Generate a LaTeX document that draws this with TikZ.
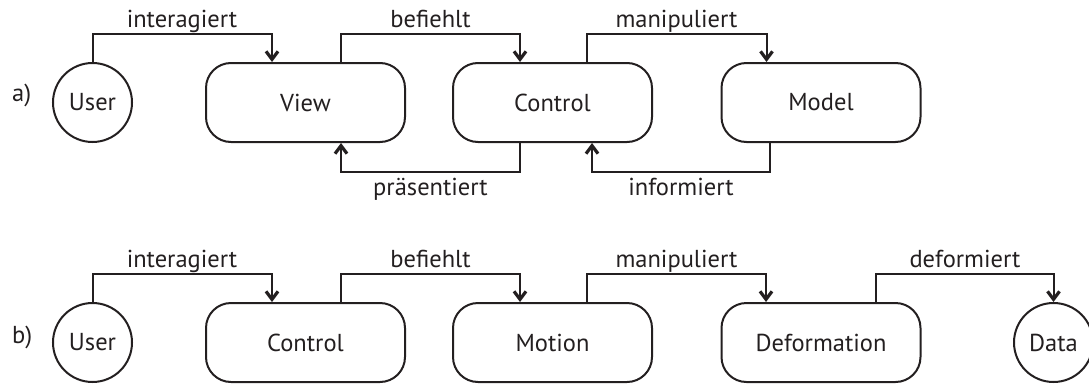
\documentclass[tikz,border=0pt]{standalone}
\usepackage{fontspec}
\setmainfont{PT Sans}
\usetikzlibrary{arrows.meta}
\definecolor{ink}{RGB}{35,31,32}
\begin{document}
\begin{tikzpicture}[x=1pt,y=-1pt,
  every node/.style={text=ink, font=\fontsize{24.5}{29}\selectfont},
  box/.style={draw=ink, line width=2pt, rounded corners=25pt, minimum width=199pt, minimum height=79pt, inner sep=0pt},
  circ/.style={draw=ink, line width=2pt, circle, minimum size=79pt, inner sep=0pt},
  conn/.style={draw=ink, line width=2pt},
  arr/.style={conn, -{Straight Barb[length=8pt,width=12pt,line width=3.2pt]}},
  lbl/.style={anchor=base, inner sep=0pt},
  tag/.style={anchor=base west, inner sep=0pt}]
\useasboundingbox (0,0) rectangle (1089,383);
% row a
\node[tag] (ta) at (12,101.5) {a)};
\node[circ] (userA) at (92.5,102.5) {User};
\node[box] (viewA) at (305.5,102.5) {View};
\node[box] (ctrlA) at (552.5,102.5) {Control};
\node[box] (modelA) at (821,102.5) {Model};
\coordinate (topA) at (0,34);
\coordinate (botA) at (0,172);
\coordinate (viewAin) at ([xshift=-33.5pt]viewA.north);
\coordinate (viewAout) at ([xshift=35.5pt]viewA.north);
\coordinate (ctrlAin) at ([xshift=-32.5pt]ctrlA.north);
\coordinate (ctrlAout) at ([xshift=34.5pt]ctrlA.north);
\coordinate (modelAin) at ([xshift=-54.5pt]modelA.north);
\coordinate (ctrlAbout) at ([xshift=-32.5pt]ctrlA.south);
\coordinate (viewAbin) at ([xshift=35.5pt]viewA.south);
\coordinate (modelAbout) at ([xshift=-51pt]modelA.south);
\coordinate (ctrlAbin) at ([xshift=39.5pt]ctrlA.south);
\draw[arr] (userA.north) |- (viewAin |- topA) -- (viewAin);
\draw[arr] (viewAout) |- (ctrlAin |- topA) -- (ctrlAin);
\draw[arr] (ctrlAout) |- (modelAin |- topA) -- (modelAin);
\draw[arr] (ctrlAbout) |- (viewAbin |- botA) -- (viewAbin);
\draw[arr] (modelAbout) |- (ctrlAbin |- botA) -- (ctrlAbin);
\node[lbl] (l1) at (182,27.5) {interagiert};
\node[lbl] (l2) at (430.5,27.5) {befiehlt};
\node[lbl] (l3) at (676.5,27.5) {manipuliert};
\node[lbl] (l4) at (430.5,195.5) {präsentiert};
\node[lbl] (l5) at (681,195.5) {informiert};
% row b
\node[tag] (tb) at (12,343) {b)};
\node[circ] (userB) at (92.5,342.5) {User};
\node[box] (ctrlB) at (305.5,342.5) {Control};
\node[box] (motionB) at (552.5,342.5) {Motion};
\node[box] (deformB) at (821,342.5) {Deformation};
\node[circ] (dataB) at (1053.5,342.5) {Data};
\coordinate (topB) at (0,274);
\coordinate (ctrlBin) at ([xshift=-33.5pt]ctrlB.north);
\coordinate (ctrlBout) at ([xshift=35.5pt]ctrlB.north);
\coordinate (motionBin) at ([xshift=-32.5pt]motionB.north);
\coordinate (motionBout) at ([xshift=34.5pt]motionB.north);
\coordinate (deformBin) at ([xshift=-55pt]deformB.north);
\coordinate (deformBout) at ([xshift=55pt]deformB.north);
\draw[arr] (userB.north) |- (ctrlBin |- topB) -- (ctrlBin);
\draw[arr] (ctrlBout) |- (motionBin |- topB) -- (motionBin);
\draw[arr] (motionBout) |- (deformBin |- topB) -- (deformBin);
\draw[arr] (deformBout) |- (dataB.north |- topB) -- (dataB.north);
\node[lbl] (m1) at (182,267.5) {interagiert};
\node[lbl] (m2) at (430.5,267.5) {befiehlt};
\node[lbl] (m3) at (676.5,267.5) {manipuliert};
\node[lbl] (m4) at (965,267.5) {deformiert};
\end{tikzpicture}
\end{document}
